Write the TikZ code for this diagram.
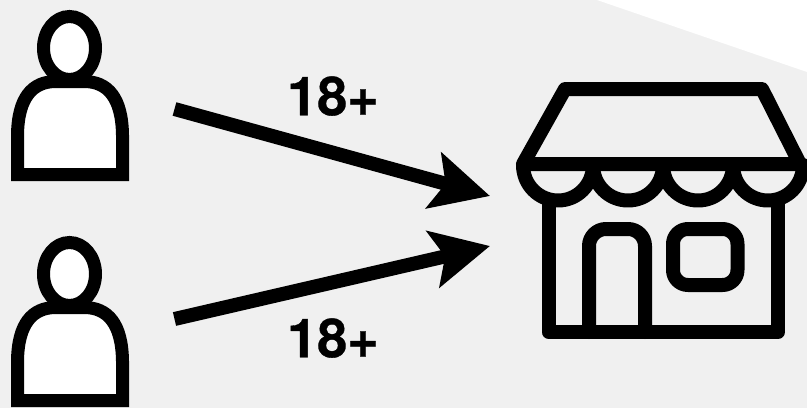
\documentclass[tikz,border=0pt]{standalone}
\usepackage{fontspec}
\setmainfont{TeX Gyre Heros}[BoldFeatures={FakeBold=0.6}]
\usetikzlibrary{arrows.meta}
\definecolor{backdrop}{HTML}{F0F0F0}
\tikzset{
  person/.style={line width=13pt,draw=black,fill=white},
  shop/.style={line width=14pt,draw=black,line join=round,line cap=round},
  agelabel/.style={font=\bfseries\fontsize{54}{54}\selectfont,inner sep=0pt},
  bigarrow/.style={line width=14pt,-{Stealth[length=58pt,width=57pt,inset=12pt]}}
}
\newcommand{\personicon}[1]{%
  \begin{scope}[yshift=-#1pt]
    \draw[person] (69.5,48) ellipse (26 and 31.5);
    \draw[person] (17.5,174.5) -- (17.5,135) .. controls (18,98) and (32,81.5) .. (56,81.5) -- (84,81.5) .. controls (108,81.5) and (122,98) .. (122.5,135) -- (122.5,174.5) -- cycle;
  \end{scope}}
\begin{document}
\begin{tikzpicture}[x=1pt,y=-1pt]
  \useasboundingbox (0,0) rectangle (807,408);
  \fill[backdrop] (0,0) rectangle (807,408);
  \fill[white] (597,0) -- (807,72) -- (807,0) -- cycle;

  % people
  \personicon{0}
  \personicon{226}

  % arrows
  \coordinate (topstart) at (174.5,109);
  \coordinate (topend) at (490,196);
  \coordinate (botstart) at (174.5,319);
  \coordinate (botend) at (490,246);
  \draw[bigarrow] (topstart) -- (topend);
  \draw[bigarrow] (botstart) -- (botend);

  \node[agelabel] (topage) at (333,96) {18+};
  \node[agelabel] (botage) at (333,338) {18+};

  % store
  \draw[shop] (565,89) -- (762,89) -- (800,164) -- (523,164) -- cycle;
  \foreach \cx in {558,628,698,768}
    \draw[shop] (\cx-35,165) .. controls (\cx-35,184.8) and (\cx-19.3,200.5) .. (\cx,200.5) .. controls (\cx+19.3,200.5) and (\cx+35,184.8) .. (\cx+35,165);
  \draw[shop] (548.5,203) -- (548.5,332) -- (778,332) -- (778,203);
  \draw[shop,rounded corners=17pt] (589,332) -- (589,229) -- (645,229) -- (645,332);
  \draw[shop,rounded corners=15pt] (673,229) rectangle (737.5,285);
\end{tikzpicture}
\end{document}
